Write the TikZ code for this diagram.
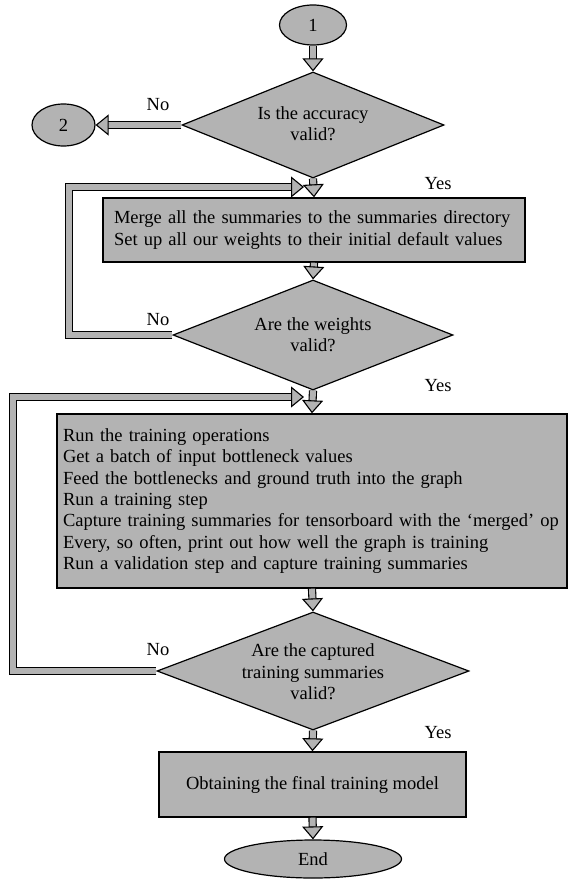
\documentclass[tikz,border=0pt]{standalone}
\usepackage{fontspec}
\setmainfont{Liberation Serif}
\usetikzlibrary{shapes.geometric,arrows.meta}
\definecolor{fillgray}{RGB}{179,179,179}
\begin{document}
\begin{tikzpicture}[x=1pt,y=-1pt,
  every node/.style={font=\fontsize{18.5}{21.3}\selectfont},
  oval/.style={ellipse,draw,fill=fillgray,line width=1.2pt,inner sep=0pt},
  dec/.style={diamond,draw,fill=fillgray,line width=1.2pt,inner sep=0pt},
  proc/.style={rectangle,draw,fill=fillgray,line width=1.4pt},
  flow/.style={draw=black,line width=1.1pt,double=fillgray,double distance=6pt,
    -{Triangle[open,fill=fillgray,length=13pt,width=21pt,line width=1.1pt]}},
  lbl/.style={inner sep=0pt}]
\useasboundingbox (0,0) rectangle (568,880);
% terminals
\node[oval,minimum width=67pt,minimum height=40pt] (s1) at (313,25) {1};
\node[oval,minimum width=63pt,minimum height=42pt] (s2) at (63.5,125) {2};
\node[oval,minimum width=177pt,minimum height=38pt] (fin) at (313,859) {End};
% decisions
\node[dec,minimum width=262pt,minimum height=106pt] (d1) at (313,125) {};
\node[align=center,lbl] (t1) at (313,124) {Is the accuracy\\valid?};
\node[dec,minimum width=280pt,minimum height=110pt] (d2) at (313,335) {};
\node[align=center,lbl] (t2) at (313,335) {Are the weights\\valid?};
\node[dec,minimum width=312pt,minimum height=118pt] (d3) at (313,671) {};
\node[align=center,lbl] (t3) at (313,672) {Are the captured\\training summaries\\valid?};
% processes
\node[proc,text width=400pt,inner xsep=11pt,inner ysep=0pt,minimum height=64pt,align=left] (m1) at (314,230)
  {Merge all the summaries to the summaries directory\\Set up all our weights to their initial default values};
\node[proc,text width=498pt,inner xsep=6pt,inner ysep=0pt,minimum height=174pt,align=left] (m2) at (312,501)
  {Run the training operations\\Get a batch of input bottleneck values\\Feed the bottlenecks and ground truth into the graph\\Run a training step\\Capture training summaries for tensorboard with the ‘merged’ op\\Every, so often, print out how well the graph is training\\Run a validation step and capture training summaries};
\node[proc,minimum width=307pt,minimum height=65pt,inner sep=0pt] (m3) at (312.5,784.5) {Obtaining the final training model};
% labels
\node[lbl] (n1) at (158,105) {No};
\node[lbl] (n2) at (158,320) {No};
\node[lbl] (n3) at (158,650) {No};
\node[lbl] (y1) at (438,184) {Yes};
\node[lbl] (y2) at (438,386) {Yes};
\node[lbl] (y3) at (438,733) {Yes};
% connectors
\draw[flow] (s1.south) -- (d1.north);
\draw[flow] (d1.west) -- (s2.east);
\draw[flow] (d1.south) -- (m1.north);
\draw[flow] (m1.south) -- (d2.north);
\draw[flow] (d2.south) -- (m2.north);
\draw[flow] (m2.south) -- (d3.north);
\draw[flow] (d3.south) -- (m3.north);
\draw[flow] (m3.south) -- (fin.north);
\coordinate (c1) at (69,187);
\coordinate (e1) at (304,187);
\draw[flow] (d2.west) -| (c1) -- (e1);
\coordinate (c2) at (13,397);
\coordinate (e2) at (304,397);
\draw[flow] (d3.west) -| (c2) -- (e2);
\end{tikzpicture}
\end{document}
